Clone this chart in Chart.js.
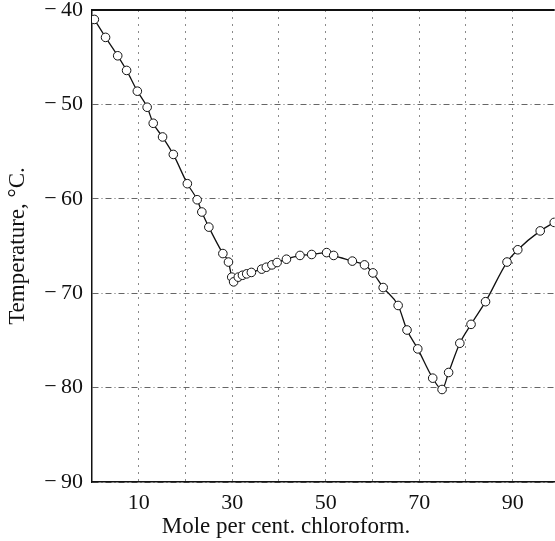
<!DOCTYPE html>
<html>
<head>
<meta charset="utf-8">
<script src="https://cdn.jsdelivr.net/npm/chart.js@4/dist/chart.umd.min.js"></script>
<style>
  html, body { margin: 0; padding: 0; background: #fff; overflow: hidden; }
  /* the original is cut off at the right, just past x = 99 */
  #wrap { width: 560px; height: 541px; }
</style>
</head>
<body>
<div id="wrap"><canvas id="chart"></canvas></div>
<script>
// mole per cent chloroform
const molePct = [0.5, 2.9, 5.5, 7.4, 9.7, 11.8, 13.1, 15.1, 17.4, 20.4, 22.5, 23.5, 25.0,
  28.0, 29.2, 29.9, 30.3, 31.3, 32.2, 33.1, 34.1, 36.3, 37.3, 38.5, 39.6, 41.6, 44.5,
  47.0, 50.2, 51.7, 55.7, 58.3, 60.1, 62.3, 65.5, 67.4, 69.7, 72.9, 74.9, 76.3, 78.7,
  81.1, 84.2, 88.8, 91.1, 95.9, 98.9];

// freezing temperature, deg C
const tempC = [-41.0, -42.9, -44.85, -46.4, -48.6, -50.3, -52.0, -53.45, -55.3, -58.4, -60.1, -61.4, -63.0,
  -65.8, -66.7, -68.3, -68.8, -68.3, -68.1, -67.95, -67.8, -67.45, -67.25, -67.0, -66.75, -66.4, -66.0,
  -65.9, -65.7, -66.0, -66.6, -67.0, -67.85, -69.4, -71.3, -73.9, -75.9, -79.0, -80.2, -78.4, -75.3,
  -73.3, -70.9, -66.7, -65.4, -63.4, -62.5];

const xGridTicks = [10, 20, 30, 40, 50, 60, 70, 80, 90];
const xLabelled = [10, 30, 50, 70, 90];
const yTicks = [-40, -50, -60, -70, -80, -90];

const xTitle = "Mole per cent. chloroform.";
const serif = "'Liberation Serif', 'DejaVu Serif', serif";

// top edge of the frame + x title (sits left of the area centre in the original)
const extras = {
  id: "extras",
  afterDraw(chart)
  {
    const a = chart.chartArea;
    const ctx = chart.ctx;
    ctx.save();
    ctx.strokeStyle = "#111";
    ctx.lineWidth = 2;
    ctx.beginPath();
    ctx.moveTo(a.left, a.top);
    ctx.lineTo(a.right, a.top);
    ctx.stroke();

    ctx.fillStyle = "#111";
    ctx.font = "23px " + serif;
    ctx.textAlign = "center";
    ctx.textBaseline = "middle";
    ctx.fillText(xTitle, chart.scales.x.getPixelForValue(41.5), 527);
    ctx.restore();
  }
};

new Chart(document.getElementById("chart"),
{
  type: "line",
  data:
  {
    datasets: [
    {
      data: molePct.map((x, i) => ({ x: x, y: tempC[i] })),
      borderColor: "#111",
      borderWidth: 1.3,
      cubicInterpolationMode: "monotone",
      pointRadius: 4.3,
      pointBorderWidth: 1,
      pointBackgroundColor: "#fff",
      pointBorderColor: "#111"
    }]
  },
  plugins: [extras],
  options:
  {
    responsive: true,
    maintainAspectRatio: false,
    animation: false,
    layout: { padding: { top: 10, right: 0, left: 0, bottom: 0 } },
    plugins: { legend: { display: false }, tooltip: { enabled: false } },
    scales:
    {
      x:
      {
        type: "linear",
        min: 0,
        max: 99,
        afterFit: s => { s.height = 59; s.paddingLeft = 0; s.paddingRight = 0; },
        afterBuildTicks: s => { s.ticks = xGridTicks.map(v => ({ value: v })); },
        ticks:
        {
          padding: 8,
          color: "#111",
          font: { family: serif, size: 22 },
          callback: v => xLabelled.includes(v) ? String(v) : ""
        },
        grid:
        {
          color: "#8a8a8a",
          lineWidth: 1,
          drawTicks: false
        },
        border: { display: true, color: "#111", width: 1.5, dash: [2, 5] },
        title: { display: false }
      },
      y:
      {
        min: -90,
        max: -40,
        afterFit: s => { s.width = 92; s.paddingTop = 0; s.paddingBottom = 0; },
        afterBuildTicks: s => { s.ticks = yTicks.map(v => ({ value: v })); },
        ticks:
        {
          padding: 9,
          color: "#111",
          font: { family: serif, size: 22 },
          callback: v => "\u2212\u2009" + Math.abs(v)
        },
        grid:
        {
          color: "#666",
          lineWidth: 1,
          drawTicks: false
        },
        border: { display: true, color: "#111", width: 1.5, dash: [6, 3, 1, 3] },
        title:
        {
          display: true,
          text: "Temperature, °C.",
          color: "#111",
          font: { family: serif, size: 23 },
          padding: { top: 4, bottom: 0 }
        }
      }
    }
  }
});
</script>
</body>
</html>
